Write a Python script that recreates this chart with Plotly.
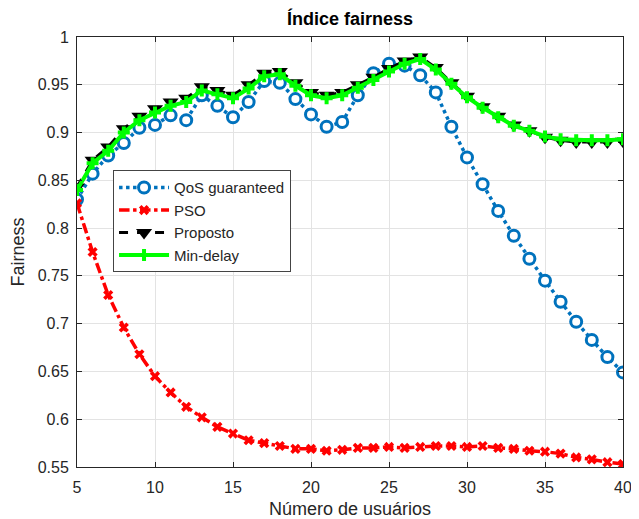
import plotly.graph_objects as go

users = list(range(5, 41))

qos_guaranteed = [0.830, 0.857, 0.876, 0.889, 0.905, 0.908, 0.918, 0.913, 0.939, 0.928,
                  0.916, 0.932, 0.954, 0.952, 0.935, 0.919, 0.906, 0.911, 0.939, 0.962,
                  0.972, 0.970, 0.960, 0.942, 0.906, 0.874, 0.846, 0.818, 0.792, 0.768,
                  0.745, 0.723, 0.702, 0.683, 0.665, 0.649]

pso = [0.826, 0.775, 0.730, 0.696, 0.668, 0.645, 0.628, 0.613, 0.602, 0.592,
       0.585, 0.578, 0.575, 0.572, 0.569, 0.569, 0.567, 0.568, 0.570, 0.570,
       0.571, 0.570, 0.571, 0.572, 0.572, 0.571, 0.572, 0.570, 0.569, 0.567,
       0.566, 0.564, 0.560, 0.558, 0.555, 0.553]

proposto = [0.843, 0.871, 0.885, 0.904, 0.917, 0.925, 0.932, 0.936, 0.948, 0.944,
            0.939, 0.950, 0.962, 0.964, 0.952, 0.942, 0.939, 0.942, 0.950, 0.958,
            0.967, 0.975, 0.979, 0.968, 0.952, 0.938, 0.927, 0.917, 0.908, 0.902,
            0.895, 0.892, 0.890, 0.890, 0.890, 0.891]

min_delay = [0.840, 0.868, 0.881, 0.900, 0.913, 0.921, 0.928, 0.932, 0.944, 0.940,
             0.936, 0.946, 0.959, 0.961, 0.949, 0.939, 0.936, 0.939, 0.947, 0.955,
             0.964, 0.972, 0.977, 0.966, 0.951, 0.937, 0.926, 0.916, 0.907, 0.902,
             0.896, 0.893, 0.892, 0.892, 0.892, 0.893]

x_ticks = [5, 10, 15, 20, 25, 30, 35, 40]
y_ticks = [0.55, 0.6, 0.65, 0.7, 0.75, 0.8, 0.85, 0.9, 0.95, 1.0]
y_tick_labels = ["0.55", "0.6", "0.65", "0.7", "0.75", "0.8", "0.85", "0.9", "0.95", "1"]

FONT = "Arial, Liberation Sans, sans-serif"
TXT = "#262626"

# page body has an 8px margin, so the figure is sized to fit the window
W, H = 631, 511
L, R, T, B = 69, 16, 29, 52

fig = go.Figure()

fig.add_trace(go.Scatter(
    x=users, y=qos_guaranteed, name="QoS guaranteed", mode="lines+markers",
    line=dict(color="#0072BD", width=3.5, dash="dot"),
    marker=dict(symbol="circle", size=11, color="white",
                line=dict(color="#0072BD", width=3)),
))
fig.add_trace(go.Scatter(
    x=users, y=pso, name="PSO", mode="lines+markers",
    line=dict(color="#FF0000", width=3.5, dash="dashdot"),
    marker=dict(symbol="x", size=9, color="#FF0000"),
))
fig.add_trace(go.Scatter(
    x=users, y=proposto, name="Proposto", mode="lines+markers",
    line=dict(color="black", width=3, dash="dash"),
    marker=dict(symbol="triangle-down", size=14, color="black"),
))
fig.add_trace(go.Scatter(
    x=users, y=min_delay, name="Min-delay", mode="lines+markers",
    line=dict(color="#00FF00", width=4),
    marker=dict(symbol="cross", size=10, color="#00FF00"),
))

fig.update_layout(
    width=W, height=H,
    margin=dict(l=L, r=R, t=T, b=B, autoexpand=False),
    paper_bgcolor="white", plot_bgcolor="white",
    font=dict(family=FONT, size=16, color=TXT),
    title=dict(text="<b>Índice fairness</b>", x=(L + (W - R)) / 2 / W, xanchor="center",
               y=1 - 11 / H, yanchor="middle",
               font=dict(family=FONT, size=18, color="black")),
    showlegend=True,
    legend=dict(x=0.066, y=0.69, xanchor="left", yanchor="top",
                bgcolor="white", bordercolor="#444444", borderwidth=1,
                font=dict(family=FONT, size=15, color=TXT),
                tracegroupgap=0, itemwidth=50),
)

fig.update_xaxes(
    range=[5, 40], tickvals=x_ticks, ticktext=[str(v) for v in x_ticks],
    showgrid=True, gridcolor="#e3e3e3", gridwidth=1,
    showline=True, linecolor=TXT, linewidth=1, mirror="ticks",
    ticks="inside", ticklen=5, tickcolor=TXT,
    zeroline=False, ticklabelstandoff=6,
    tickfont=dict(size=16, color=TXT),
    title=dict(text="Número de usuários", font=dict(size=18, color=TXT), standoff=8),
)
fig.update_yaxes(
    range=[0.55, 1.0], tickvals=y_ticks, ticktext=y_tick_labels,
    showgrid=True, gridcolor="#e3e3e3", gridwidth=1,
    showline=True, linecolor=TXT, linewidth=1, mirror="ticks",
    ticks="inside", ticklen=5, tickcolor=TXT,
    zeroline=False, ticklabelstandoff=4,
    tickfont=dict(size=16, color=TXT),
    title=dict(text="Fairness", font=dict(size=18, color=TXT), standoff=8),
)

fig.write_html("out.html")
